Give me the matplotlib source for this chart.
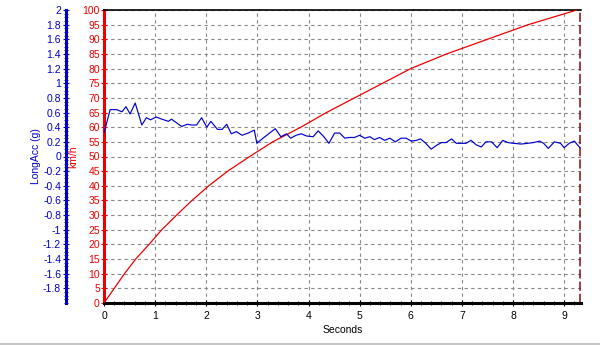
import matplotlib
matplotlib.use("Agg")
import matplotlib.pyplot as plt
from matplotlib.lines import Line2D
from matplotlib.ticker import MultipleLocator

# velocidad (km/h) frente al tiempo
t_vel = [0, 0.2, 0.4, 0.62, 0.88, 1.13, 1.42, 1.72, 2.05, 2.42, 2.85, 3.3,
         3.85, 4.35, 4.9, 5.45, 6.0, 6.7, 7.5, 8.3, 9.25]
kmh = [0, 5, 10, 15, 20, 25, 30, 35, 40, 45, 50, 55,
       60, 65, 70, 75, 80, 85, 90, 95, 100]

# aceleracion longitudinal (g)
t_acc = [0.0, 0.12, 0.25, 0.35, 0.43, 0.51, 0.61, 0.74, 0.83, 0.91, 1.02, 1.13,
         1.26, 1.32, 1.52, 1.63, 1.71, 1.81, 1.91, 2.01, 2.09, 2.22, 2.31, 2.40,
         2.49, 2.59, 2.70, 2.82, 2.94, 2.99, 3.11, 3.24, 3.35, 3.46, 3.57, 3.65,
         3.76, 3.86, 3.96, 4.09, 4.19, 4.30, 4.40, 4.51, 4.61, 4.71, 4.80, 4.90,
         5.00, 5.10, 5.20, 5.29, 5.39, 5.49, 5.59, 5.70, 5.81, 5.91, 6.01, 6.11,
         6.19, 6.28, 6.40, 6.50, 6.60, 6.69, 6.80, 6.89, 6.99, 7.08, 7.18, 7.28,
         7.38, 7.47, 7.58, 7.69, 7.80, 7.90, 8.01, 8.16, 8.29, 8.40, 8.52, 8.60,
         8.69, 8.81, 8.93, 9.00, 9.10, 9.20, 9.26, 9.31]
g = [0.32, 0.64, 0.64, 0.61, 0.68, 0.58, 0.73, 0.43, 0.53, 0.50, 0.54, 0.51,
     0.48, 0.51, 0.41, 0.44, 0.43, 0.43, 0.53, 0.40, 0.48, 0.37, 0.37, 0.44,
     0.31, 0.34, 0.29, 0.32, 0.36, 0.18, 0.25, 0.32, 0.38, 0.27, 0.31, 0.25,
     0.29, 0.31, 0.28, 0.27, 0.35, 0.27, 0.18, 0.32, 0.32, 0.25, 0.26, 0.26,
     0.29, 0.25, 0.27, 0.23, 0.26, 0.22, 0.25, 0.20, 0.25, 0.25, 0.21, 0.22,
     0.24, 0.19, 0.10, 0.15, 0.19, 0.19, 0.24, 0.18, 0.18, 0.18, 0.22, 0.16,
     0.13, 0.20, 0.20, 0.12, 0.22, 0.19, 0.18, 0.17, 0.18, 0.19, 0.21, 0.18,
     0.11, 0.20, 0.18, 0.12, 0.18, 0.21, 0.16, 0.12]

t_fin = 9.31

plt.rcParams['font.family'] = ['Liberation Sans', 'DejaVu Sans']

fig = plt.figure(figsize=(6, 3.45), dpi=100)
ax = fig.add_axes([104 / 600, 1 - 303 / 345, 477 / 600, 293 / 345])

rojo = '#ee0000'
azul = '#0000cc'

# eje de velocidad (rojo)
ax.set_xlim(0, t_fin + 0.02)
ax.set_ylim(0, 100)
ax.yaxis.set_major_locator(MultipleLocator(5))
ax.yaxis.set_minor_locator(MultipleLocator(1))
ax.xaxis.set_major_locator(MultipleLocator(1))
ax.xaxis.set_minor_locator(MultipleLocator(0.2))
ax.grid(True, which='major', color='#888888', linestyle=(0, (3, 3)), linewidth=0.8)
ax.set_axisbelow(True)

ax.spines['left'].set_color(rojo)
ax.spines['left'].set_linewidth(2.2)
ax.spines['bottom'].set_linewidth(2.2)
ax.spines['top'].set_linewidth(1.2)
ax.spines['right'].set_visible(False)
ax.tick_params(axis='y', which='major', colors=rojo, labelsize=7.5, length=4,
               direction='inout', pad=1)
ax.tick_params(axis='y', which='minor', colors=rojo, length=2, direction='inout')
ax.tick_params(axis='x', which='major', labelsize=7.5, length=5, direction='inout', pad=3)
ax.tick_params(axis='x', which='minor', length=3, direction='inout')
ax.set_xlabel('Seconds', fontsize=7.5, labelpad=3)
ax.set_ylabel('km/h', color=rojo, fontsize=7.5)
ax.yaxis.set_label_coords((78 - 104) / 477, 0.5)

ax.plot(t_vel, kmh, color=rojo, linewidth=0.9, zorder=3)
ax.axvline(t_fin, color='#7a1010', linestyle=(0, (6, 2)), linewidth=1.1)

# eje de aceleracion (azul), desplazado a la izquierda
ax2 = ax.twinx()
ax2.set_ylim(-2, 2)
for s in ['top', 'right', 'bottom']:
    ax2.spines[s].set_visible(False)
ax2.yaxis.tick_left()
ax2.yaxis.set_label_position('left')
ax2.spines['left'].set_visible(True)
ax2.spines['left'].set_position(('axes', (66 - 104) / 477))
ax2.spines['left'].set_color(azul)
ax2.spines['left'].set_linewidth(2.2)
ax2.set_yticks([2 - 0.2 * i for i in range(20)])
ax2.set_yticklabels(['%g' % round(2 - 0.2 * i, 1) for i in range(20)])
ax2.yaxis.set_minor_locator(MultipleLocator(0.05))
ax2.tick_params(axis='y', which='major', colors=azul, labelsize=7.5, length=5,
                direction='inout', pad=1)
ax2.tick_params(axis='y', which='minor', colors=azul, length=3, direction='inout')
ax2.set_ylabel('LongAcc (g)', color=azul, fontsize=7.5)
ax2.yaxis.set_label_coords((41 - 104) / 477, 0.5)

ax2.plot(t_acc, g, color=azul, linewidth=0.85)

# marco inferior
fig.add_artist(Line2D([0, 1], [1 - 343.5 / 345] * 2, color='#bbbbbb', linewidth=1.2))

fig.savefig('out.png', dpi=100)
